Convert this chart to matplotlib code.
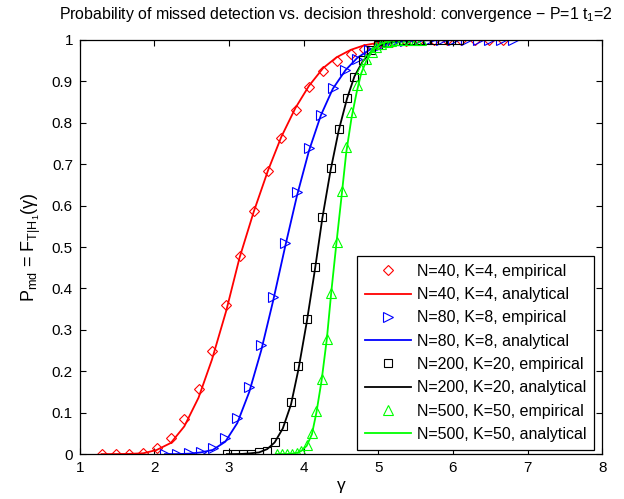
import matplotlib
matplotlib.use('Agg')
import matplotlib.pyplot as plt

plt.rcParams['font.family'] = ['Liberation Sans', 'DejaVu Sans']
plt.rcParams['mathtext.fontset'] = 'custom'
plt.rcParams['mathtext.rm'] = 'Liberation Sans'
plt.rcParams['mathtext.it'] = 'Liberation Sans'
plt.rcParams['mathtext.bf'] = 'Liberation Sans:bold'

# gamma grid of the empirical points and the read-off CDF values
g40 = [1.29, 1.48, 1.66, 1.85, 2.03, 2.22, 2.40, 2.59, 2.77, 2.96, 3.14, 3.33, 3.52, 3.70, 3.89,
       4.07, 4.26, 4.44, 4.63, 4.81, 5.00, 5.18, 5.37, 5.55, 5.74, 5.92, 6.11, 6.29, 6.48, 6.67]
emp40 = [0, 0, 0, 0.002, 0.014, 0.039, 0.085, 0.156, 0.248, 0.361, 0.479, 0.588, 0.684, 0.763, 0.832,
         0.886, 0.925, 0.950, 0.966, 0.978, 0.989, 0.995, 0.998, 1, 1, 1, 1, 1, 1, 1]
line_g40 = [1.29, 1.48, 1.66, 1.85, 2.03, 2.22, 2.40, 2.59, 2.77, 2.96, 3.14, 3.33, 3.52, 3.70, 3.89,
            4.07, 4.26, 4.44, 4.63, 4.81, 5.00, 5.18, 5.37, 5.55, 7.47]
ana40 = [0, 0, 0.0005, 0.002, 0.010, 0.027, 0.067, 0.136, 0.228, 0.345, 0.474, 0.585, 0.684, 0.766, 0.836,
         0.889, 0.932, 0.958, 0.976, 0.987, 0.993, 0.997, 0.999, 1, 1]

g80 = [2.14, 2.30, 2.46, 2.62, 2.78, 2.95, 3.11, 3.27, 3.43, 3.59, 3.75, 3.91, 4.07, 4.23, 4.39,
       4.56, 4.72, 4.88, 5.04, 5.20, 5.36, 5.52, 5.68, 5.84, 6.00, 6.17, 6.33, 6.49, 6.65, 6.81]
emp80 = [0, 0, 0.002, 0.006, 0.014, 0.038, 0.086, 0.163, 0.263, 0.380, 0.509, 0.634, 0.738, 0.819, 0.885,
         0.928, 0.955, 0.975, 0.988, 0.995, 0.998, 1, 1, 1, 1, 1, 1, 1, 1, 1]
line_g80 = [2.14, 2.30, 2.46, 2.62, 2.78, 2.95, 3.11, 3.27, 3.43, 3.59, 3.75, 3.91, 4.07, 4.23, 4.39,
            4.56, 4.72, 4.88, 5.04, 5.20, 5.36, 5.52, 6.81]
ana80 = [0, 0, 0.001, 0.004, 0.010, 0.030, 0.075, 0.150, 0.250, 0.370, 0.500, 0.624, 0.732, 0.818, 0.882,
         0.927, 0.957, 0.976, 0.987, 0.994, 0.997, 0.999, 1]

g200 = [2.97, 3.08, 3.18, 3.29, 3.40, 3.51, 3.61, 3.72, 3.83, 3.93, 4.04, 4.15, 4.25, 4.36, 4.47,
        4.58, 4.68, 4.79, 4.90, 5.00, 5.11, 5.22, 5.33, 5.43, 5.54, 5.65, 5.75, 5.86, 5.97, 6.08]
emp200 = [0, 0, 0, 0, 0.004, 0.008, 0.030, 0.068, 0.125, 0.213, 0.325, 0.451, 0.573, 0.690, 0.784,
          0.859, 0.911, 0.952, 0.975, 0.988, 0.995, 0.998, 1, 1, 1, 1, 1, 1, 1, 1]
line_g200 = [2.97, 3.08, 3.18, 3.29, 3.40, 3.51, 3.61, 3.72, 3.83, 3.93, 4.04, 4.15, 4.25, 4.36, 4.47,
             4.58, 4.68, 4.79, 4.90, 5.00, 5.11, 5.22, 5.33, 5.43, 6.08]
ana200 = [0, 0, 0.0005, 0.002, 0.004, 0.012, 0.028, 0.062, 0.120, 0.205, 0.318, 0.445, 0.570, 0.685, 0.782,
          0.858, 0.912, 0.948, 0.971, 0.985, 0.993, 0.997, 0.999, 1, 1]

g500 = [3.64, 3.71, 3.77, 3.84, 3.91, 3.97, 4.04, 4.11, 4.17, 4.24, 4.31, 4.37, 4.44, 4.51, 4.57,
        4.64, 4.71, 4.77, 4.84, 4.91, 4.97, 5.04, 5.11, 5.17, 5.24, 5.31, 5.37, 5.44, 5.51, 5.57]
emp500 = [0, 0, 0, 0, 0.002, 0.008, 0.022, 0.051, 0.105, 0.181, 0.278, 0.390, 0.511, 0.635, 0.741,
          0.826, 0.890, 0.929, 0.955, 0.972, 0.984, 0.991, 0.996, 0.998, 1, 1, 1, 1, 1, 1]
ana500 = [0, 0, 0, 0.001, 0.003, 0.008, 0.020, 0.048, 0.100, 0.178, 0.278, 0.392, 0.512, 0.627, 0.728,
          0.811, 0.874, 0.919, 0.950, 0.970, 0.983, 0.991, 0.995, 0.998, 0.999, 1, 1, 1, 1, 1]

fig = plt.figure(figsize=(6.24, 4.99), dpi=100)
ax = fig.add_axes([0.128, 0.090, 0.837, 0.830])

series = [
    (g40, emp40, line_g40, ana40, 'r', 'D', 5.4, 'N=40, K=4'),
    (g80, emp80, line_g80, ana80, 'b', '>', 6.8, 'N=80, K=8'),
    (g200, emp200, line_g200, ana200, 'k', 's', 6.2, 'N=200, K=20'),
    (g500, emp500, g500, ana500, (0, 1, 0), '^', 6.5, 'N=500, K=50'),
]
for ge, pe, gl, pl, c, m, ms, name in series:
    ax.plot(ge, pe, linestyle='none', marker=m, ms=ms, mfc='none', mec=c, mew=0.8,
            label=name + ', empirical')
    ax.plot(gl, pl, color=c, lw=1.3, label=name + ', analytical')

ax.set_xlim(1, 8)
ax.set_ylim(0, 1)
ax.set_xticks(range(1, 9))
ax.set_yticks([i / 10 for i in range(11)])
ax.set_yticklabels(['0', '0.1', '0.2', '0.3', '0.4', '0.5', '0.6', '0.7', '0.8', '0.9', '1'])
ax.tick_params(direction='in', length=4, top=True, right=True, labelsize=11, pad=5)
for s in ax.spines.values():
    s.set_linewidth(0.9)

fig.text(336 / 624, 1 - 14 / 499,
         r'Probability of missed detection vs. decision threshold: convergence $-$ P=1 t$_1$=2',
         fontsize=11.4, ha='center', va='center')
ax.set_xlabel(r'$\gamma$', fontsize=12.5, labelpad=3)
ax.set_ylabel(r'P$_{\mathrm{md}}$ = F$_{\mathrm{T|H_1}}$($\gamma$)', fontsize=13, labelpad=6)

leg = ax.legend(loc='lower right', bbox_to_anchor=(0.985, 0.010), fontsize=11.5, frameon=True,
                fancybox=False, edgecolor='k', framealpha=1, handlelength=2.9,
                labelspacing=0.52, borderpad=0.5, handletextpad=0.35, borderaxespad=0)
leg.get_frame().set_linewidth(0.9)

fig.savefig('out.png', dpi=100)
